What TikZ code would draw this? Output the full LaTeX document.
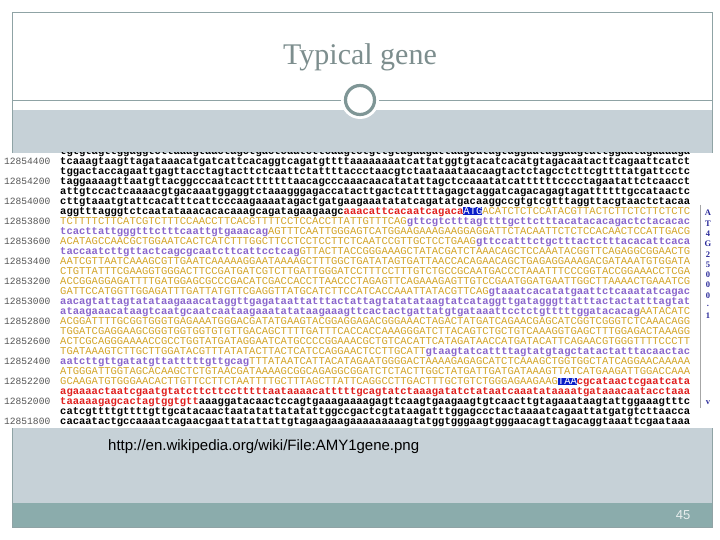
\documentclass[tikz,border=0pt]{standalone}
\usepackage{fontspec}
\setmainfont{Liberation Serif}
\newfontfamily\monof{Liberation Mono}
\newfontfamily\sansf{Liberation Sans}
\definecolor{frame}{HTML}{8FA3A5}
\definecolor{band}{HTML}{C6D1D7}
\definecolor{teal}{HTML}{8BACAC}
\definecolor{titlec}{HTML}{7D8E8E}
\definecolor{ring}{HTML}{7F9696}
\definecolor{sy}{HTML}{D4A52A}
\definecolor{sv}{HTML}{8A66CC}
\definecolor{sr}{HTML}{E0201E}
\definecolor{sb}{HTML}{0A1EC8}
\definecolor{labc}{HTML}{555555}
\definecolor{acc}{HTML}{2A2A9A}
\newcommand\qk[1]{{\bfseries\color{black}#1}}
\newcommand\qy[1]{{\color{sy}#1}}
\newcommand\qv[1]{{\bfseries\color{sv}#1}}
\newcommand\qr[1]{{\bfseries\color{sr}#1}}
\newcommand\qb[1]{{\setlength\fboxsep{0pt}\colorbox{sb}{\color{white}#1}}}
\tikzset{
  seq/.style={anchor=base west,inner sep=0pt,font=\monof\fontsize{10.5}{10.5}\selectfont},
  lab/.style={anchor=base west,inner sep=0pt,text=labc,font=\monof\fontsize{9.6}{9.6}\selectfont},
  acl/.style={inner sep=0pt,text=acc,font=\fontsize{8.5}{8.5}\selectfont\bfseries},
}
\begin{document}
\begin{tikzpicture}[x=1pt,y=-1pt]
\useasboundingbox (0,0) rectangle (720,540);
\fill[white] (0,0) rectangle (720,540);
% slide
\fill[band] (12,110) rectangle (712,503);
\fill[teal] (12,503) rectangle (712,527);
\draw[frame,line width=0.8pt] (12,12) rectangle (712,527);
\draw[frame,line width=0.8pt] (12,100) -- (712,100);
\node[text=titlec,font=\fontsize{30}{30}\selectfont] (title) at (360,57) {Typical gene};
\fill[white] (360,100) circle (19);
\draw[ring,line width=3.2pt] (360,100) circle (14.5);
% sequence picture
\begin{scope}
\clip (0,153) rectangle (720,428);
\fill[white] (0,153) rectangle (720,428);
\node[seq] (r0) at (60,154.5) {\qk{tgtgtagttggaggtcttaaagtaactagctgactcaatcttcaagtctgttgtagaagattaagcatagtaggaataggaagtattggaatagaaaaga}};
\node[seq] (r1) at (60,164.5) {\qk{tcaaagtaagttagataaacatgatcattcacaggtcagatgttttaaaaaaaatcattatggtgtacatcacatgtagacaatacttcagaattcatct}};
\node[seq] (r2) at (60,174.5) {\qk{tggactaccagaattgagttacctagtacttctcaattctattttaccctaacgtctaataaataacaagtactctagcctcttcgttttatgattcctc}};
\node[seq] (r3) at (60,184.5) {\qk{taggaaaagttaatgttacggcccaatcactttttttaacagcccaaacaacatatattagctccaaatatcattttttcccctagaatattctcaacct}};
\node[seq] (r4) at (60,194.5) {\qk{attgtccactcaaaacgtgacaaatggaggtctaaagggagaccatacttgactcattttagagctaggatcagacagagtagattttttgccataactc}};
\node[seq] (r5) at (60,204.5) {\qk{cttgtaaatgtattcacatttcattcccaagaaaatagactgatgaagaaatatatcagatatgacaaggccgtgtcgtttaggttacgtaactctacaa}};
\node[seq] (r6) at (60,214.5) {\qk{aggtttagggtctcaatataaacacacaaagcagatagaagaagc}\qr{aaacattcacaatcagaca}\qb{ATG}\qy{ACATCTCTCCATACGTTACTCTTCTCTTCTCTC}};
\node[seq] (r7) at (60,224.5) {\qy{TCTTTTCTTCATCGTCTTTCCAACCTTCACGTTTTCCTCCACCTTATTGTTTCAG}\qv{gttcgtctttagttttgcttctttacatacacagactctacacac}};
\node[seq] (r8) at (60,234.5) {\qv{tcacttattgggtttctttcaattgtgaaacag}\qy{AGTTTCAATTGGGAGTCATGGAAGAAAGAAGGAGGATTCTACAATTCTCTCCACAACTCCATTGACG}};
\node[seq] (r9) at (60,244.5) {\qy{ACATAGCCAACGCTGGAATCACTCATCTTTGGCTTCCTCCTCCTTCTCAATCCGTTGCTCCTGAAG}\qv{gttccatttctgctttactctttacacattcaca}};
\node[seq] (r10) at (60,254.5) {\qv{taccaatcttgttactcagcgcaatcttcattcctcag}\qy{GTTACTTACCGGGAAAGCTATACGATCTAAACAGCTCCAAATACGGTTCAGAGGCGGAACTG}};
\node[seq] (r11) at (60,264.5) {\qy{AATCGTTAATCAAAGCGTTGAATCAAAAAGGAATAAAAGCTTTGGCTGATATAGTGATTAACCACAGAACAGCTGAGAGGAAAGACGATAAATGTGGATA}};
\node[seq] (r12) at (60,274.5) {\qy{CTGTTATTTCGAAGGTGGGACTTCCGATGATCGTCTTGATTGGGATCCTTTCCTTTGTCTGCCGCAATGACCCTAAATTTCCCGGTACCGGAAACCTCGA}};
\node[seq] (r13) at (60,284.5) {\qy{ACCGGAGGAGATTTTGATGGAGCGCCCGACATCGACCACCTTAACCCTAGAGTTCAGAAAGAGTTGTCCGAATGGATGAATTGGCTTAAAACTGAAATCG}};
\node[seq] (r14) at (60,294.5) {\qy{GATTCCATGGTTGGAGATTTGATTATGTTCGAGGTTATGCATCTTCCATCACCAAATTATACGTTCAG}\qv{gtaaatcacatatgaattctcaaatatcagac}};
\node[seq] (r15) at (60,304.5) {\qv{aacagtattagtatataagaaacataggttgagataattatttactattagtatatataagtatcataggttgatagggttatttactactatttagtat}};
\node[seq] (r16) at (60,314.5) {\qv{ataagaaacataagtcaatgcaatcaataagaaatatataagaaagttcactactgattatgtgataaattcctctgtttttggatacacag}\qy{AATACATC}};
\node[seq] (r17) at (60,324.5) {\qy{ACGGATTTTGCGGTGGGTGAGAAATGGGACGATATGAAGTACGGAGGAGACGGGAAACTAGACTATGATCAGAACGAGCATCGGTCGGGTCTCAAACAGG}};
\node[seq] (r18) at (60,334.5) {\qy{TGGATCGAGGAAGCGGGTGGTGGTGTGTTGACAGCTTTTGATTTCACCACCAAAGGGATCTTACAGTCTGCTGTCAAAGGTGAGCTTTGGAGACTAAAGG}};
\node[seq] (r19) at (60,344.5) {\qy{ACTCGCAGGGAAAACCGCCTGGTATGATAGGAATCATGCCCCGGAAACGCTGTCACATTCATAGATAACCATGATACATTCAGAACGTGGGTTTTCCCTT}};
\node[seq] (r20) at (60,354.5) {\qy{TGATAAAGTCTTGCTTGGATACGTTTATATACTTACTCATCCAGGAACTCCTTGCATT}\qv{gtaagtatcattttagtatgtagctatactatttacaactac}};
\node[seq] (r21) at (60,364.5) {\qv{aatcttgttgatatgttatttttgttgcag}\qy{TTTATAATCATTACATAGAATGGGGACTAAAAGAGAGCATCTCAAAGCTGGTGGCTATCAGGAACAAAAA}};
\node[seq] (r22) at (60,374.5) {\qy{ATGGGATTGGTAGCACAAGCTCTGTAACGATAAAAGCGGCAGAGGCGGATCTCTACTTGGCTATGATTGATGATAAAGTTATCATGAAGATTGGACCAAA}};
\node[seq] (r23) at (60,384.5) {\qy{GCAAGATGTGGGAACACTTGTTCCTTCTAATTTTGCTTTAGCTTATTCAGGCCTTGACTTTGCTGTCTGGGAGAAGAAG}\qb{TAA}\qr{cgcataactcgaatcata}};
\node[seq] (r24) at (60,394.5) {\qr{agaaaactaatcgaatgtatcttcttcctttttaataaaacatttttgcagtatctaaagatatctataatcaaatataaaatgataaacaatacctaaa}};
\node[seq] (r25) at (60,404.5) {\qr{taaaaagagcactagtggtgtt}\qk{aaaggatacaactccagtgaaagaaaagagttcaagtgaagaagtgtcaacttgtagaaataagtattggaaagtttc}};
\node[seq] (r26) at (60,414.5) {\qk{catcgttttgttttgttgcatacaactaatatattatatattggccgactcgtataagatttggagccctactaaaatcagaattatgatgtcttaacca}};
\node[seq] (r27) at (60,424.5) {\qk{cacaatactgccaaaatcagaacgaattatattattgtagaagaagaaaaaaaaagtatggtgggaagtgggaacagttagacaggtaaattcgaataaa}};
\node[lab] (l1) at (4,164.5) {12854400};
\node[lab] (l3) at (4,184.5) {12854200};
\node[lab] (l5) at (4,204.5) {12854000};
\node[lab] (l7) at (4,224.5) {12853800};
\node[lab] (l9) at (4,244.5) {12853600};
\node[lab] (l11) at (4,264.5) {12853400};
\node[lab] (l13) at (4,284.5) {12853200};
\node[lab] (l15) at (4,304.5) {12853000};
\node[lab] (l17) at (4,324.5) {12852800};
\node[lab] (l19) at (4,344.5) {12852600};
\node[lab] (l21) at (4,364.5) {12852400};
\node[lab] (l23) at (4,384.5) {12852200};
\node[lab] (l25) at (4,404.5) {12852000};
\node[lab] (l27) at (4,424.5) {12851800};
\draw[gray!70,line width=0.6pt] (700,205) -- (700,408);
\foreach \c [count=\i from 0] in {A,T,4,G,2,5,0,0,0,.,1}
  \node[acl] (a\i) at (708,213+10.3*\i) {\c};
\node[acl] (av) at (708,403) {v};
\end{scope}
\node[anchor=west,inner sep=0pt,font=\sansf\fontsize{15}{15}\selectfont] (url) at (108,447) {http://en.wikipedia.org/wiki/File:AMY1gene.png};
\node[text=white!80!teal,font=\sansf\fontsize{13}{13}\selectfont] (num) at (683,515) {45};
\end{tikzpicture}
\end{document}
